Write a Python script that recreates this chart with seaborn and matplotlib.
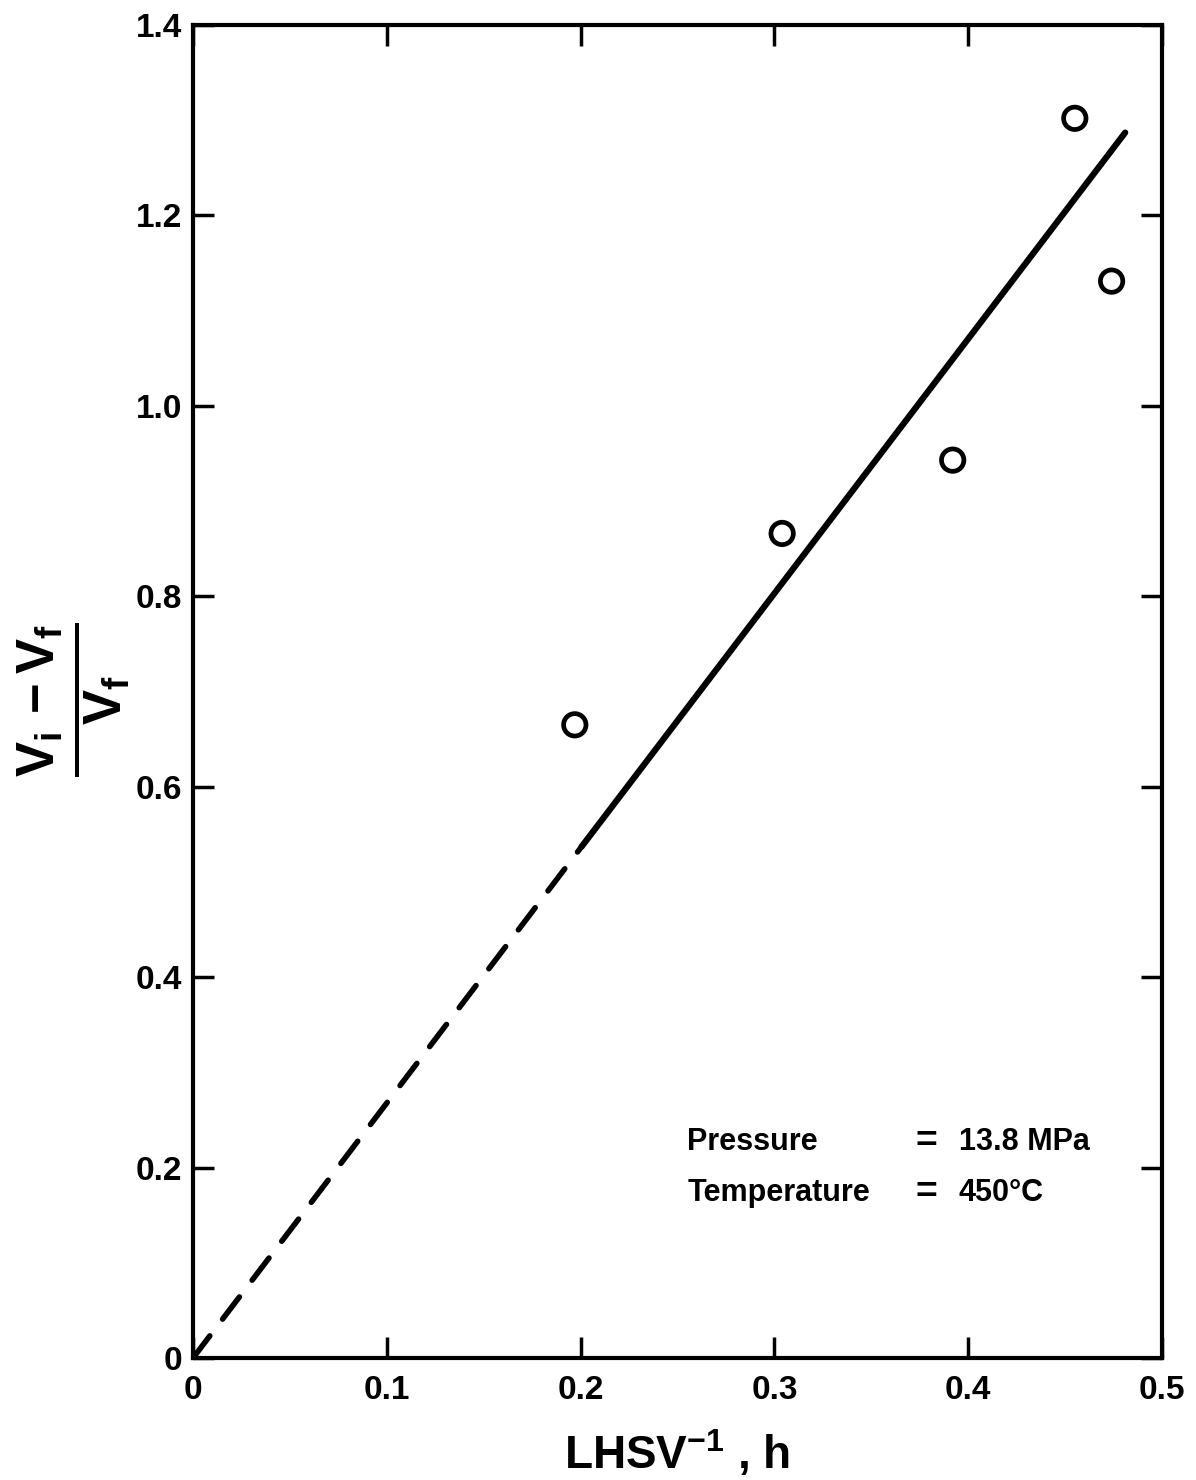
import numpy as np
import pandas as pd
import matplotlib
matplotlib.use("Agg")
import matplotlib.pyplot as plt
import seaborn as sns

# ---- data ----
lhsv_inv = [0.197, 0.304, 0.392, 0.455, 0.474]
ratio = [0.665, 0.866, 0.943, 1.302, 1.131]

fit_dash_x = [0.0, 0.2005]
fit_dash_y = [0.0, 0.537]
fit_solid_x = [0.2005, 0.481]
fit_solid_y = [0.537, 1.287]

x_ticks = [0, 0.1, 0.2, 0.3, 0.4, 0.5]
x_ticklabels = ["0", "0.1", "0.2", "0.3", "0.4", "0.5"]
y_ticks = [0, 0.2, 0.4, 0.6, 0.8, 1.0, 1.2, 1.4]
y_ticklabels = ["0", "0.2", "0.4", "0.6", "0.8", "1.0", "1.2", "1.4"]

annot_lines = [("Pressure", "=", "13.8 MPa"), ("Temperature", "=", "450°C")]

# ---- style ----
sns.set_style("ticks")
plt.rcParams["font.family"] = ["Liberation Sans", "DejaVu Sans"]
plt.rcParams["text.color"] = "black"
plt.rcParams["axes.labelcolor"] = "black"
plt.rcParams["xtick.color"] = "black"
plt.rcParams["ytick.color"] = "black"
plt.rcParams["mathtext.fontset"] = "custom"
plt.rcParams["mathtext.rm"] = "Liberation Sans:bold"
plt.rcParams["mathtext.it"] = "Liberation Sans:bold"
plt.rcParams["mathtext.bf"] = "Liberation Sans:bold"

fig = plt.figure(figsize=(11.96, 14.80), dpi=100)
ax = fig.add_axes([193 / 1196, 1 - 1358 / 1480, (1162 - 193) / 1196, (1358 - 25) / 1480])

df = pd.DataFrame({"x": lhsv_inv, "y": ratio})
sns.scatterplot(data=df, x="x", y="y", ax=ax, marker="o", s=260,
                facecolor="none", edgecolor="black", linewidth=3.4, zorder=3)
sns.lineplot(x=fit_dash_x, y=fit_dash_y, ax=ax, color="black", lw=4.0,
             linestyle=(0, (5.0, 3.8)), dash_capstyle="round")
sns.lineplot(x=fit_solid_x, y=fit_solid_y, ax=ax, color="black", lw=4.5,
             solid_capstyle="round")

ax.set_xlim(0, 0.5)
ax.set_ylim(0, 1.4)
ax.set_xticks(x_ticks)
ax.set_xticklabels(x_ticklabels)
ax.set_yticks(y_ticks)
ax.set_yticklabels(y_ticklabels)

for s in ax.spines.values():
    s.set_visible(True)
    s.set_linewidth(3)
    s.set_color("black")

ax.tick_params(axis="both", which="both", direction="in", length=15, width=2.5,
               top=True, right=True, labelsize=24, colors="black")
for lab in ax.get_xticklabels() + ax.get_yticklabels():
    lab.set_fontweight("bold")
ax.tick_params(axis="x", pad=12)
ax.tick_params(axis="y", pad=8)

ax.set_xlabel(r"LHSV$^{\mathbf{-1}}$ , h", fontsize=33, fontweight="bold", labelpad=16)
ax.set_ylabel(r"$\frac{V_i\,-V_f}{V_f}$", fontsize=54)
ax.yaxis.set_label_coords(-0.062, 0.494)

# annotation
ys = [0.2267, 0.173]
for (a, b, c), yy in zip(annot_lines, ys):
    ax.text(0.255, yy, a, fontsize=22, fontweight="bold", va="center")
    ax.text(0.373, yy, b, fontsize=27, fontweight="bold", va="center")
    ax.text(0.395, yy, c, fontsize=22, fontweight="bold", va="center")

fig.savefig("out.png", dpi=100)
